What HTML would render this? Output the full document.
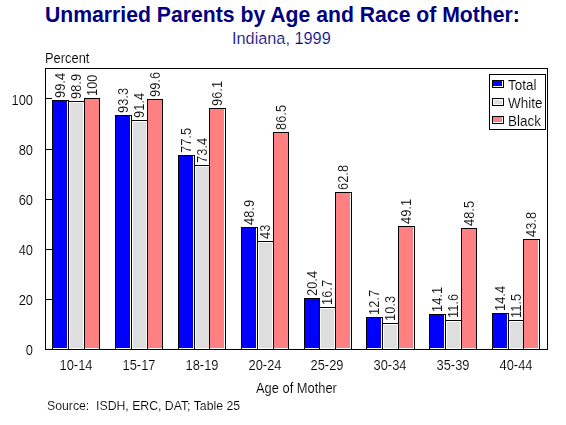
<!DOCTYPE html>
<html><head><meta charset="utf-8"><style>
html,body{margin:0;padding:0;background:#fff;width:566px;height:425px;overflow:hidden;}
body{position:relative;font-family:"Liberation Sans", sans-serif;color:#000;}
.r{position:absolute;}
.tt{position:absolute;white-space:pre;}
.t,.v,.yl,.xl{filter:grayscale(1);-webkit-text-stroke:0.12px #fff;}
.t{position:absolute;white-space:pre;line-height:16px;font-size:14px;transform-origin:0 0;transform:scaleX(0.92);}
.v{position:absolute;white-space:pre;font-size:14px;line-height:14px;height:14px;transform-origin:0 0;transform:rotate(-90deg) scaleX(0.92) translate(0,-7px);}
.yl{position:absolute;left:0;width:33px;text-align:right;font-size:14px;line-height:16px;transform-origin:100% 0;transform:scaleX(0.92);}
.xl{position:absolute;top:357px;width:60px;text-align:center;font-size:14px;line-height:16px;transform:scaleX(0.92);}
</style></head><body>
<div class="tt" style="left:45px;top:3px;font-size:21.2px;line-height:24px;font-weight:bold;color:#000080;transform:none">Unmarried Parents by Age and Race of Mother:</div>
<div class="tt" style="left:232px;top:29px;font-size:16.3px;line-height:18px;color:#000080;-webkit-text-stroke:0.2px #fff">Indiana, 1999</div>
<div class="t" style="left:45px;top:50px">Percent</div>
<div class="r" style="left:45px;top:68px;width:503px;height:1px;background:#000"></div>
<div class="r" style="left:45px;top:349px;width:503px;height:1px;background:#000"></div>
<div class="r" style="left:45px;top:68px;width:1px;height:282px;background:#000"></div>
<div class="r" style="left:547px;top:68px;width:1px;height:282px;background:#000"></div>
<div class="r" style="left:46px;top:98px;width:6px;height:1px;background:#000"></div>
<div class="r" style="left:46px;top:149px;width:6px;height:1px;background:#000"></div>
<div class="r" style="left:46px;top:199px;width:6px;height:1px;background:#000"></div>
<div class="r" style="left:46px;top:249px;width:6px;height:1px;background:#000"></div>
<div class="r" style="left:46px;top:299px;width:6px;height:1px;background:#000"></div>
<div class="r" style="left:52px;top:100px;width:17px;height:250px;background:#000"></div>
<div class="r" style="left:53px;top:101px;width:15px;height:248px;background:#fff"></div>
<div class="r" style="left:53px;top:101px;width:14px;height:247px;background:#0000ff"></div>
<div class="r" style="left:68px;top:101px;width:17px;height:249px;background:#000"></div>
<div class="r" style="left:69px;top:102px;width:15px;height:247px;background:#fff"></div>
<div class="r" style="left:70px;top:103px;width:13px;height:245px;background:#dedede"></div>
<div class="r" style="left:84px;top:98px;width:16px;height:252px;background:#000"></div>
<div class="r" style="left:85px;top:99px;width:14px;height:250px;background:#fff"></div>
<div class="r" style="left:85px;top:99px;width:14px;height:249px;background:#ff8080"></div>
<div class="r" style="left:115px;top:115px;width:17px;height:235px;background:#000"></div>
<div class="r" style="left:116px;top:116px;width:15px;height:233px;background:#fff"></div>
<div class="r" style="left:116px;top:116px;width:14px;height:232px;background:#0000ff"></div>
<div class="r" style="left:131px;top:120px;width:17px;height:230px;background:#000"></div>
<div class="r" style="left:132px;top:121px;width:15px;height:228px;background:#fff"></div>
<div class="r" style="left:133px;top:122px;width:13px;height:226px;background:#dedede"></div>
<div class="r" style="left:147px;top:99px;width:16px;height:251px;background:#000"></div>
<div class="r" style="left:148px;top:100px;width:14px;height:249px;background:#fff"></div>
<div class="r" style="left:148px;top:100px;width:14px;height:248px;background:#ff8080"></div>
<div class="r" style="left:178px;top:155px;width:17px;height:195px;background:#000"></div>
<div class="r" style="left:179px;top:156px;width:15px;height:193px;background:#fff"></div>
<div class="r" style="left:179px;top:156px;width:14px;height:192px;background:#0000ff"></div>
<div class="r" style="left:194px;top:165px;width:16px;height:185px;background:#000"></div>
<div class="r" style="left:195px;top:166px;width:14px;height:183px;background:#fff"></div>
<div class="r" style="left:196px;top:167px;width:13px;height:181px;background:#dedede"></div>
<div class="r" style="left:209px;top:108px;width:17px;height:242px;background:#000"></div>
<div class="r" style="left:210px;top:109px;width:15px;height:240px;background:#fff"></div>
<div class="r" style="left:210px;top:109px;width:14px;height:239px;background:#ff8080"></div>
<div class="r" style="left:241px;top:227px;width:17px;height:123px;background:#000"></div>
<div class="r" style="left:242px;top:228px;width:15px;height:121px;background:#fff"></div>
<div class="r" style="left:242px;top:228px;width:14px;height:120px;background:#0000ff"></div>
<div class="r" style="left:257px;top:241px;width:17px;height:109px;background:#000"></div>
<div class="r" style="left:258px;top:242px;width:15px;height:107px;background:#fff"></div>
<div class="r" style="left:259px;top:243px;width:13px;height:105px;background:#dedede"></div>
<div class="r" style="left:273px;top:132px;width:16px;height:218px;background:#000"></div>
<div class="r" style="left:274px;top:133px;width:14px;height:216px;background:#fff"></div>
<div class="r" style="left:274px;top:133px;width:14px;height:215px;background:#ff8080"></div>
<div class="r" style="left:304px;top:298px;width:16px;height:52px;background:#000"></div>
<div class="r" style="left:305px;top:299px;width:14px;height:50px;background:#fff"></div>
<div class="r" style="left:305px;top:299px;width:14px;height:49px;background:#0000ff"></div>
<div class="r" style="left:319px;top:307px;width:17px;height:43px;background:#000"></div>
<div class="r" style="left:320px;top:308px;width:15px;height:41px;background:#fff"></div>
<div class="r" style="left:321px;top:309px;width:13px;height:39px;background:#dedede"></div>
<div class="r" style="left:335px;top:192px;width:17px;height:158px;background:#000"></div>
<div class="r" style="left:336px;top:193px;width:15px;height:156px;background:#fff"></div>
<div class="r" style="left:336px;top:193px;width:14px;height:155px;background:#ff8080"></div>
<div class="r" style="left:366px;top:317px;width:17px;height:33px;background:#000"></div>
<div class="r" style="left:367px;top:318px;width:15px;height:31px;background:#fff"></div>
<div class="r" style="left:367px;top:318px;width:14px;height:30px;background:#0000ff"></div>
<div class="r" style="left:382px;top:323px;width:17px;height:27px;background:#000"></div>
<div class="r" style="left:383px;top:324px;width:15px;height:25px;background:#fff"></div>
<div class="r" style="left:384px;top:325px;width:13px;height:23px;background:#dedede"></div>
<div class="r" style="left:398px;top:226px;width:17px;height:124px;background:#000"></div>
<div class="r" style="left:399px;top:227px;width:15px;height:122px;background:#fff"></div>
<div class="r" style="left:399px;top:227px;width:14px;height:121px;background:#ff8080"></div>
<div class="r" style="left:429px;top:314px;width:17px;height:36px;background:#000"></div>
<div class="r" style="left:430px;top:315px;width:15px;height:34px;background:#fff"></div>
<div class="r" style="left:430px;top:315px;width:14px;height:33px;background:#0000ff"></div>
<div class="r" style="left:445px;top:320px;width:17px;height:30px;background:#000"></div>
<div class="r" style="left:446px;top:321px;width:15px;height:28px;background:#fff"></div>
<div class="r" style="left:447px;top:322px;width:13px;height:26px;background:#dedede"></div>
<div class="r" style="left:461px;top:228px;width:16px;height:122px;background:#000"></div>
<div class="r" style="left:462px;top:229px;width:14px;height:120px;background:#fff"></div>
<div class="r" style="left:462px;top:229px;width:14px;height:119px;background:#ff8080"></div>
<div class="r" style="left:492px;top:313px;width:17px;height:37px;background:#000"></div>
<div class="r" style="left:493px;top:314px;width:15px;height:35px;background:#fff"></div>
<div class="r" style="left:493px;top:314px;width:14px;height:34px;background:#0000ff"></div>
<div class="r" style="left:508px;top:320px;width:16px;height:30px;background:#000"></div>
<div class="r" style="left:509px;top:321px;width:14px;height:28px;background:#fff"></div>
<div class="r" style="left:510px;top:322px;width:13px;height:26px;background:#dedede"></div>
<div class="r" style="left:523px;top:239px;width:17px;height:111px;background:#000"></div>
<div class="r" style="left:524px;top:240px;width:15px;height:109px;background:#fff"></div>
<div class="r" style="left:524px;top:240px;width:14px;height:108px;background:#ff8080"></div>
<div class="r" style="left:489px;top:74px;width:57px;height:56px;background:#000"></div>
<div class="r" style="left:490px;top:75px;width:55px;height:54px;background:#fff"></div>
<div class="r" style="left:492px;top:80px;width:12px;height:8px;background:#000"></div>
<div class="r" style="left:493px;top:81px;width:10px;height:6px;background:#fff"></div>
<div class="r" style="left:493px;top:81px;width:9px;height:5px;background:#0000ff"></div>
<div class="t" style="left:508px;top:77px;transform:scaleX(0.96)">Total</div>
<div class="r" style="left:492px;top:98px;width:12px;height:8px;background:#000"></div>
<div class="r" style="left:493px;top:99px;width:10px;height:6px;background:#fff"></div>
<div class="r" style="left:494px;top:100px;width:8px;height:4px;background:#dedede"></div>
<div class="t" style="left:508px;top:95px;transform:scaleX(0.96)">White</div>
<div class="r" style="left:492px;top:116px;width:12px;height:8px;background:#000"></div>
<div class="r" style="left:493px;top:117px;width:10px;height:6px;background:#fff"></div>
<div class="r" style="left:493px;top:117px;width:9px;height:5px;background:#ff8080"></div>
<div class="t" style="left:508px;top:113px;transform:scaleX(0.96)">Black</div>
<div class="v" style="left:60.0px;top:97.5px">99.4</div>
<div class="v" style="left:76.0px;top:98.5px">98.9</div>
<div class="v" style="left:91.5px;top:95.5px">100</div>
<div class="v" style="left:123.0px;top:112.5px">93.3</div>
<div class="v" style="left:139.0px;top:117.5px">91.4</div>
<div class="v" style="left:154.5px;top:96.5px">99.6</div>
<div class="v" style="left:186.0px;top:152.5px">77.5</div>
<div class="v" style="left:201.5px;top:162.5px">73.4</div>
<div class="v" style="left:217.0px;top:105.5px">96.1</div>
<div class="v" style="left:249.0px;top:224.5px">48.9</div>
<div class="v" style="left:265.0px;top:238.5px">43</div>
<div class="v" style="left:280.5px;top:129.5px">86.5</div>
<div class="v" style="left:311.5px;top:295.5px">20.4</div>
<div class="v" style="left:327.0px;top:304.5px">16.7</div>
<div class="v" style="left:343.0px;top:189.5px">62.8</div>
<div class="v" style="left:374.0px;top:314.5px">12.7</div>
<div class="v" style="left:390.0px;top:320.5px">10.3</div>
<div class="v" style="left:406.0px;top:223.5px">49.1</div>
<div class="v" style="left:437.0px;top:311.5px">14.1</div>
<div class="v" style="left:453.0px;top:317.5px">11.6</div>
<div class="v" style="left:468.5px;top:225.5px">48.5</div>
<div class="v" style="left:500.0px;top:310.5px">14.4</div>
<div class="v" style="left:515.5px;top:317.5px">11.5</div>
<div class="v" style="left:531.0px;top:236.5px">43.8</div>
<div class="yl" style="top:91.5px">100</div>
<div class="yl" style="top:141.5px">80</div>
<div class="yl" style="top:191.5px">60</div>
<div class="yl" style="top:241.5px">40</div>
<div class="yl" style="top:291.5px">20</div>
<div class="yl" style="top:341.5px">0</div>
<div class="xl" style="left:46.38px">10-14</div>
<div class="xl" style="left:109.12px">15-17</div>
<div class="xl" style="left:171.88px">18-19</div>
<div class="xl" style="left:234.62px">20-24</div>
<div class="xl" style="left:297.38px">25-29</div>
<div class="xl" style="left:360.12px">30-34</div>
<div class="xl" style="left:422.88px">35-39</div>
<div class="xl" style="left:485.62px">40-44</div>
<div class="t" style="left:255.5px;top:380px">Age of Mother</div>
<div class="t" style="left:46.5px;top:398px;font-size:13px;transform:scaleX(0.943)">Source:  ISDH, ERC, DAT; Table 25</div>
</body></html>
